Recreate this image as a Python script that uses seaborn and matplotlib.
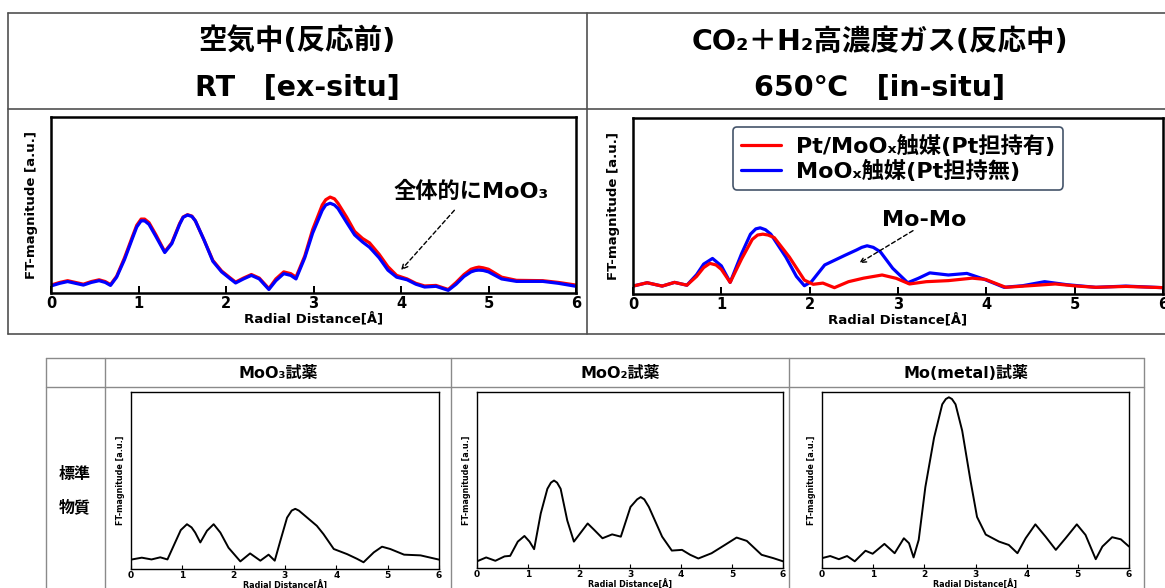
import matplotlib
matplotlib.use("Agg")
import matplotlib.pyplot as plt
import seaborn as sns
from matplotlib.lines import Line2D

# -----------------------------
#  Data (y as fraction of the axes height)
# -----------------------------
# top-left: in air, RT, ex-situ
r_air = [0, 0.1, 0.19, 0.28, 0.37, 0.46, 0.55, 0.62, 0.68, 0.75,
         0.84, 0.93, 0.98, 1.03, 1.07, 1.12, 1.2, 1.3, 1.38, 1.47,
         1.51, 1.56, 1.61, 1.65, 1.75, 1.85, 1.95, 2.05, 2.11, 2.2,
         2.29, 2.38, 2.49, 2.57, 2.66, 2.74, 2.8, 2.9, 2.99, 3.1,
         3.14, 3.19, 3.24, 3.28, 3.38, 3.47, 3.56, 3.64, 3.75, 3.85,
         3.95, 4.07, 4.17, 4.27, 4.4, 4.54, 4.63, 4.72, 4.8, 4.85,
         4.89, 4.94, 5.0, 5.15, 5.32, 5.62, 5.8, 6.0]
pt_air = [0.045, 0.06, 0.07, 0.06, 0.05, 0.065, 0.075, 0.065, 0.048, 0.095,
          0.20, 0.32, 0.385, 0.42, 0.42, 0.40, 0.33, 0.235, 0.285, 0.395,
          0.432, 0.445, 0.437, 0.41, 0.30, 0.185, 0.125, 0.085, 0.062, 0.085,
          0.105, 0.085, 0.025, 0.08, 0.12, 0.11, 0.09, 0.21, 0.36, 0.50,
          0.53, 0.545, 0.535, 0.51, 0.43, 0.35, 0.31, 0.285, 0.22, 0.15,
          0.10, 0.08, 0.055, 0.04, 0.043, 0.02, 0.06, 0.105, 0.135, 0.143,
          0.147, 0.143, 0.135, 0.09, 0.072, 0.07, 0.06, 0.045]
moox_air = [0.04, 0.055, 0.065, 0.055, 0.045, 0.06, 0.07, 0.06, 0.043, 0.09,
            0.19, 0.31, 0.375, 0.41, 0.41, 0.39, 0.32, 0.23, 0.28, 0.39,
            0.43, 0.443, 0.435, 0.41, 0.30, 0.18, 0.12, 0.08, 0.057, 0.08,
            0.10, 0.08, 0.02, 0.07, 0.11, 0.10, 0.08, 0.20, 0.34, 0.47,
            0.50, 0.51, 0.50, 0.48, 0.40, 0.33, 0.29, 0.26, 0.20, 0.13,
            0.09, 0.075, 0.05, 0.034, 0.038, 0.015, 0.05, 0.094, 0.12, 0.128,
            0.13, 0.128, 0.12, 0.08, 0.066, 0.066, 0.055, 0.038]

# top-right: CO2 + H2, 650C, in-situ
r_pt_gas = [0, 0.16, 0.33, 0.47, 0.61, 0.72, 0.8, 0.87, 0.94, 1.0,
            1.1, 1.23, 1.35, 1.41, 1.47, 1.53, 1.6, 1.77, 1.94, 2.04,
            2.15, 2.28, 2.44, 2.61, 2.82, 2.98, 3.13, 3.32, 3.57, 3.84,
            3.99, 4.22, 4.49, 4.78, 5.03, 5.24, 5.58, 6.0]
pt_gas = [0.045, 0.064, 0.045, 0.066, 0.05, 0.10, 0.15, 0.174, 0.165, 0.14,
          0.066, 0.20, 0.31, 0.335, 0.34, 0.335, 0.32, 0.21, 0.079, 0.055,
          0.062, 0.036, 0.07, 0.09, 0.108, 0.089, 0.057, 0.07, 0.076, 0.09,
          0.083, 0.038, 0.047, 0.057, 0.045, 0.038, 0.043, 0.036]
r_moox_gas = [0, 0.16, 0.33, 0.47, 0.61, 0.72, 0.8, 0.9, 1.0, 1.1,
              1.23, 1.33, 1.39, 1.44, 1.50, 1.56, 1.73, 1.85, 1.94, 2.02,
              2.17, 2.4, 2.53, 2.59, 2.65, 2.72, 2.8, 2.94, 3.11, 3.23,
              3.36, 3.57, 3.78, 3.97, 4.2, 4.41, 4.66, 4.91, 5.24, 5.58,
              6.0]
moox_gas = [0.045, 0.064, 0.045, 0.066, 0.05, 0.11, 0.17, 0.202, 0.16, 0.066,
            0.23, 0.34, 0.37, 0.376, 0.365, 0.34, 0.21, 0.10, 0.047, 0.07,
            0.165, 0.22, 0.25, 0.265, 0.274, 0.265, 0.24, 0.146, 0.064, 0.089,
            0.12, 0.108, 0.117, 0.085, 0.038, 0.047, 0.07, 0.053, 0.038, 0.045,
            0.036]

# bottom row: reference materials
r_moo3 = [0, 0.21, 0.40, 0.57, 0.71, 0.86, 0.97, 1.09, 1.18, 1.25,
          1.35, 1.48, 1.61, 1.74, 1.90, 2.13, 2.32, 2.52, 2.68, 2.80,
          2.91, 3.04, 3.13, 3.20, 3.27, 3.36, 3.62, 3.75, 3.95, 4.21,
          4.40, 4.53, 4.73, 4.89, 5.05, 5.32, 5.64, 6.0]
moo3 = [0.053, 0.064, 0.054, 0.066, 0.054, 0.15, 0.22, 0.253, 0.235, 0.206,
        0.15, 0.216, 0.253, 0.206, 0.12, 0.043, 0.088, 0.047, 0.081, 0.047,
        0.16, 0.29, 0.33, 0.34, 0.33, 0.308, 0.244, 0.197, 0.113, 0.084,
        0.058, 0.038, 0.094, 0.126, 0.113, 0.081, 0.077, 0.053]
r_moo2 = [0, 0.18, 0.36, 0.54, 0.65, 0.80, 0.93, 1.03, 1.12, 1.25,
          1.38, 1.45, 1.51, 1.57, 1.64, 1.77, 1.90, 2.00, 2.17, 2.30,
          2.46, 2.65, 2.82, 3.01, 3.14, 3.21, 3.28, 3.37, 3.63, 3.82,
          4.02, 4.18, 4.34, 4.60, 4.86, 5.09, 5.29, 5.58, 5.81, 6.0]
moo2 = [0.038, 0.06, 0.041, 0.066, 0.069, 0.15, 0.182, 0.15, 0.107, 0.31,
        0.45, 0.485, 0.497, 0.485, 0.45, 0.27, 0.15, 0.188, 0.253, 0.216,
        0.169, 0.191, 0.178, 0.347, 0.39, 0.403, 0.39, 0.347, 0.178, 0.099,
        0.103, 0.075, 0.054, 0.084, 0.131, 0.173, 0.154, 0.075, 0.056, 0.038]
r_mo = [0, 0.16, 0.33, 0.49, 0.64, 0.85, 0.99, 1.22, 1.42, 1.60,
        1.70, 1.79, 1.89, 2.02, 2.19, 2.35, 2.42, 2.48, 2.54, 2.61,
        2.74, 2.90, 3.03, 3.20, 3.46, 3.65, 3.82, 3.98, 4.17, 4.37,
        4.57, 4.76, 4.98, 5.15, 5.35, 5.48, 5.67, 5.84, 6.0]
mo_metal = [0.056, 0.068, 0.05, 0.068, 0.038, 0.098, 0.081, 0.137, 0.084, 0.169,
            0.141, 0.06, 0.16, 0.46, 0.74, 0.93, 0.96, 0.97, 0.96, 0.93,
            0.78, 0.50, 0.29, 0.19, 0.15, 0.131, 0.084, 0.169, 0.248, 0.178,
            0.103, 0.169, 0.248, 0.188, 0.05, 0.122, 0.175, 0.163, 0.122]

x_ticks = [0, 1, 2, 3, 4, 5, 6]
legend_labels = ["Pt/MoOₓ触媒(Pt担持有)", "MoOₓ触媒(Pt担持無)"]
top_titles = [("空気中(反応前)", "RT　[ex-situ]"),
              ("CO₂＋H₂高濃度ガス(反応中)", "650℃　[in-situ]")]
ref_titles = ["MoO₃試薬", "MoO₂試薬", "Mo(metal)試薬"]

# -----------------------------
#  Layout helpers (pixel coords of a 1165x588 canvas)
# -----------------------------
W, H = 1165, 588


def box(l, t, r, b):
    return [l / W, 1 - b / H, (r - l) / W, (b - t) / H]


def seg(fig, x0, y0, x1, y1, color, lw):
    fig.add_artist(Line2D([x0 / W, x1 / W], [1 - y0 / H, 1 - y1 / H],
                          transform=fig.transFigure, color=color, lw=lw))


def fig_text(fig, x, y, s, **kw):
    fig.text(x / W, 1 - y / H, s, ha="center", va="center", **kw)


def style_axes(ax, spine_lw, tick_fs, label_fs, tick_len, big):
    ax.set_xlim(0, 6)
    ax.set_ylim(0, 1)
    ax.set_xticks(x_ticks)
    ax.set_yticks([])
    for sp in ax.spines.values():
        sp.set_visible(True)
        sp.set_color("black")
        sp.set_linewidth(spine_lw)
    ax.tick_params(axis="x", direction="in", length=tick_len, width=spine_lw * 0.8,
                   labelsize=tick_fs, pad=2 if big else 1.5, bottom=True,
                   colors="black")
    ax.set_xlabel("Radial Distance[Å]", fontsize=label_fs, labelpad=1 if big else 0.5)
    ax.set_ylabel("FT-magnitude [a.u.]", fontsize=label_fs, labelpad=9 if big else 4)


def dashed_arrow(ax, start, end):
    ax.annotate("", xy=end, xytext=start,
                arrowprops=dict(arrowstyle="->", linestyle=(0, (3, 2)), lw=1.0,
                                color="black", shrinkA=0, shrinkB=0))


# -----------------------------
#  Figure
# -----------------------------
sns.set_style("white", {"text.color": "black", "axes.labelcolor": "black",
                        "xtick.color": "black", "axes.edgecolor": "black"})
plt.rcParams["font.family"] = ["DejaVu Sans", "Noto Sans CJK JP"]
plt.rcParams["font.weight"] = "bold"
plt.rcParams["axes.labelweight"] = "bold"

fig = plt.figure(figsize=(W / 100, H / 100), dpi=100)

# table frames
top_c, bot_c = "#505050", "#8a8a8a"
for y in (13, 109, 334):
    seg(fig, 8, y, 1165, y, top_c, 1.2)
for x in (8, 587):
    seg(fig, x, 13, x, 334, top_c, 1.2)
for y in (358, 387):
    seg(fig, 46, y, 1144, y, bot_c, 1.0)
for x in (46, 105, 451, 789, 1144):
    seg(fig, x, 358, x, 588, bot_c, 1.0)

# top headers
for cx, (l1, l2) in zip((297, 880), top_titles):
    fig_text(fig, cx, 42, l1, fontsize=20.5)
    fig_text(fig, cx, 88, l2, fontsize=20.5)

# top-left panel
ax_tl = fig.add_axes(box(51, 117, 576, 293))
sns.lineplot(x=r_air, y=pt_air, ax=ax_tl, color="#ff0000", linewidth=2.3,
             legend=False, solid_joinstyle="round")
sns.lineplot(x=r_air, y=moox_air, ax=ax_tl, color="#0000ff", linewidth=2.3,
             legend=False, solid_joinstyle="round")
style_axes(ax_tl, 1.8, 10.5, 9.5, 5, True)
ax_tl.text(4.8, 0.575, "全体的にMoO₃", ha="center", va="center", fontsize=16)
dashed_arrow(ax_tl, (4.61, 0.47), (4.0, 0.13))

# top-right panel
ax_tr = fig.add_axes(box(633, 118, 1163, 294))
sns.lineplot(x=r_moox_gas, y=moox_gas, ax=ax_tr, color="#0000ff", linewidth=2.3,
             label=legend_labels[1], legend=False, solid_joinstyle="round")
sns.lineplot(x=r_pt_gas, y=pt_gas, ax=ax_tr, color="#ff0000", linewidth=2.3,
             label=legend_labels[0], legend=False, solid_joinstyle="round")
style_axes(ax_tr, 1.8, 10.5, 9.5, 5, True)
ax_tr.text(3.3, 0.42, "Mo-Mo", ha="center", va="center", fontsize=16)
dashed_arrow(ax_tr, (3.17, 0.36), (2.56, 0.175))
handles, labels = ax_tr.get_legend_handles_labels()
leg = ax_tr.legend(handles[::-1], labels[::-1], loc="upper center",
                   bbox_to_anchor=(0.5, 0.95), borderaxespad=0, fontsize=16,
                   frameon=True, fancybox=True, framealpha=1, handlelength=1.8,
                   handletextpad=0.7, labelspacing=0.15, borderpad=0.35)
leg.get_frame().set_edgecolor("#44546a")
leg.get_frame().set_linewidth(1.2)

# bottom headers
fig_text(fig, 75, 474, "標準", fontsize=11.5)
fig_text(fig, 75, 507, "物質", fontsize=11.5)
for cx, t in zip((278, 620, 966), ref_titles):
    fig_text(fig, cx, 373, t, fontsize=11.5)

# bottom panels
ref_curves = [(r_moo3, moo3), (r_moo2, moo2), (r_mo, mo_metal)]
ref_boxes = [(131, 392, 439, 569), (477, 392, 783, 568), (822, 392, 1129, 568)]
for (rx, ry), bx in zip(ref_curves, ref_boxes):
    ax = fig.add_axes(box(*bx))
    sns.lineplot(x=rx, y=ry, ax=ax, color="black", linewidth=1.4, legend=False,
                 solid_joinstyle="round")
    style_axes(ax, 1.0, 6.5, 5.8, 3, False)

fig.savefig("out.png", dpi=100)
